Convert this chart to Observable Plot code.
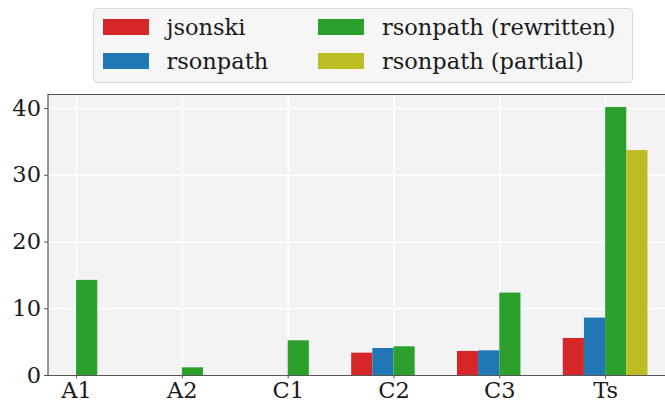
<!DOCTYPE html>
<html>
<head>
<meta charset="utf-8">
<script src="https://cdn.jsdelivr.net/npm/d3@7"></script>
<script src="https://cdn.jsdelivr.net/npm/@observablehq/plot@0.6"></script>
<style>
  html, body { margin: 0; padding: 0; background: #fff; overflow: hidden; }
  #wrap { position: relative; width: 665px; height: 402px; font-family: 'DejaVu Serif', serif; }
  #legend { position: absolute; left: 93px; top: 8px; width: 540px; height: 75px; background: #f6f6f6; border: 1px solid #dadada; border-radius: 4px; box-sizing: border-box; }
  .item { position: absolute; height: 20px; display: flex; align-items: center; font-size: 22.5px; color: #1a1a1a; white-space: nowrap; font-family: 'DejaVu Serif', serif; }
  .sw { width: 46px; height: 16px; margin-right: 18px; flex: none; }
  #chart { position: absolute; left: 0; top: 90px; }
</style>
</head>
<body>
<div id="wrap">
  <div id="legend"></div>
  <div id="chart"></div>
</div>
<script>
const categories = ["A1", "A2", "C1", "C2", "C3", "Ts"];
const seriesNames = ["jsonski", "rsonpath", "rsonpath (rewritten)", "rsonpath (partial)"];
const seriesColors = ["#d62728", "#1f77b4", "#2ca02c", "#bcbd22"];
const jsonski    = [null, null, null, 3.35, 3.6, 5.55];
const rsonpath   = [null, null, null, 4.05, 3.7, 8.6];
const rewritten  = [14.25, 1.15, 5.2, 4.3, 12.35, 40.15];
const partial    = [null, null, null, null, null, 33.7];
const yTicks = [0, 10, 20, 30, 40];

const seriesValues = [jsonski, rsonpath, rewritten, partial];
const barWidth = 0.2;
const rows = [];
seriesValues.forEach((vals, s) => {
  vals.forEach((v, i) => {
    if (v == null) return;
    const x1 = i + (s - 2) * barWidth;
    rows.push({series: seriesNames[s], cat: categories[i], x1, x2: x1 + barWidth, y: v});
  });
});

const xDomain = [-0.27, 5.67];
const yDomain = [0, 42.1];

const chart = Plot.plot({
  width: 665,
  height: 312,
  marginTop: 4,
  marginBottom: 27,
  marginLeft: 48,
  marginRight: 0,
  style: {fontFamily: "'DejaVu Serif', serif", fontSize: "22.5px", color: "#1a1a1a", background: "transparent", overflow: "visible"},
  x: {domain: xDomain, range: [47.5, 676], axis: null},
  y: {domain: yDomain, axis: null},
  color: {domain: seriesNames, range: seriesColors},
  marks: [
    Plot.rect([0], {x1: xDomain[0], x2: xDomain[1], y1: yDomain[0], y2: yDomain[1], fill: "#f3f3f3"}),
    Plot.ruleY(yTicks, {stroke: "#ffffff", strokeWidth: 1.6, strokeOpacity: 1}),
    Plot.ruleX(d3.range(categories.length), {stroke: "#ffffff", strokeWidth: 1.6, strokeOpacity: 1}),
    Plot.rect(rows, {x1: "x1", x2: "x2", y1: 0, y2: "y", fill: "series", inset: 0}),
    Plot.ruleY([yDomain[0]], {stroke: "#555", strokeWidth: 1.2}),
    Plot.ruleY([yDomain[1]], {stroke: "#555", strokeWidth: 1.2}),
    Plot.ruleX([xDomain[0]], {stroke: "#555", strokeWidth: 1.2}),
    Plot.axisY(yTicks, {label: null, tickSize: 4, tickPadding: 3.5, stroke: "#555", fontSize: 22.5, fill: "#1a1a1a", fontFamily: "DejaVu Serif", tickFormat: d => d}),
    Plot.axisX(d3.range(categories.length), {label: null, tickSize: 3.5, tickPadding: 3.5, stroke: "#555", fontSize: 22.5, fill: "#1a1a1a", fontFamily: "DejaVu Serif", tickFormat: i => categories[i]})
  ]
});
document.getElementById("chart").appendChild(chart);

const legend = document.getElementById("legend");
const pos = [[8.5, 7.5], [8.5, 41.5], [224, 7.5], [224, 41.5]];
seriesNames.forEach((name, s) => {
  const it = document.createElement("div");
  it.className = "item";
  it.style.left = pos[s][0] + "px";
  it.style.top = pos[s][1] + "px";
  const sw = document.createElement("div");
  sw.className = "sw";
  sw.style.background = seriesColors[s];
  it.appendChild(sw);
  const t = document.createElement("span");
  t.textContent = name;
  it.appendChild(t);
  legend.appendChild(it);
});
</script>
</body>
</html>
